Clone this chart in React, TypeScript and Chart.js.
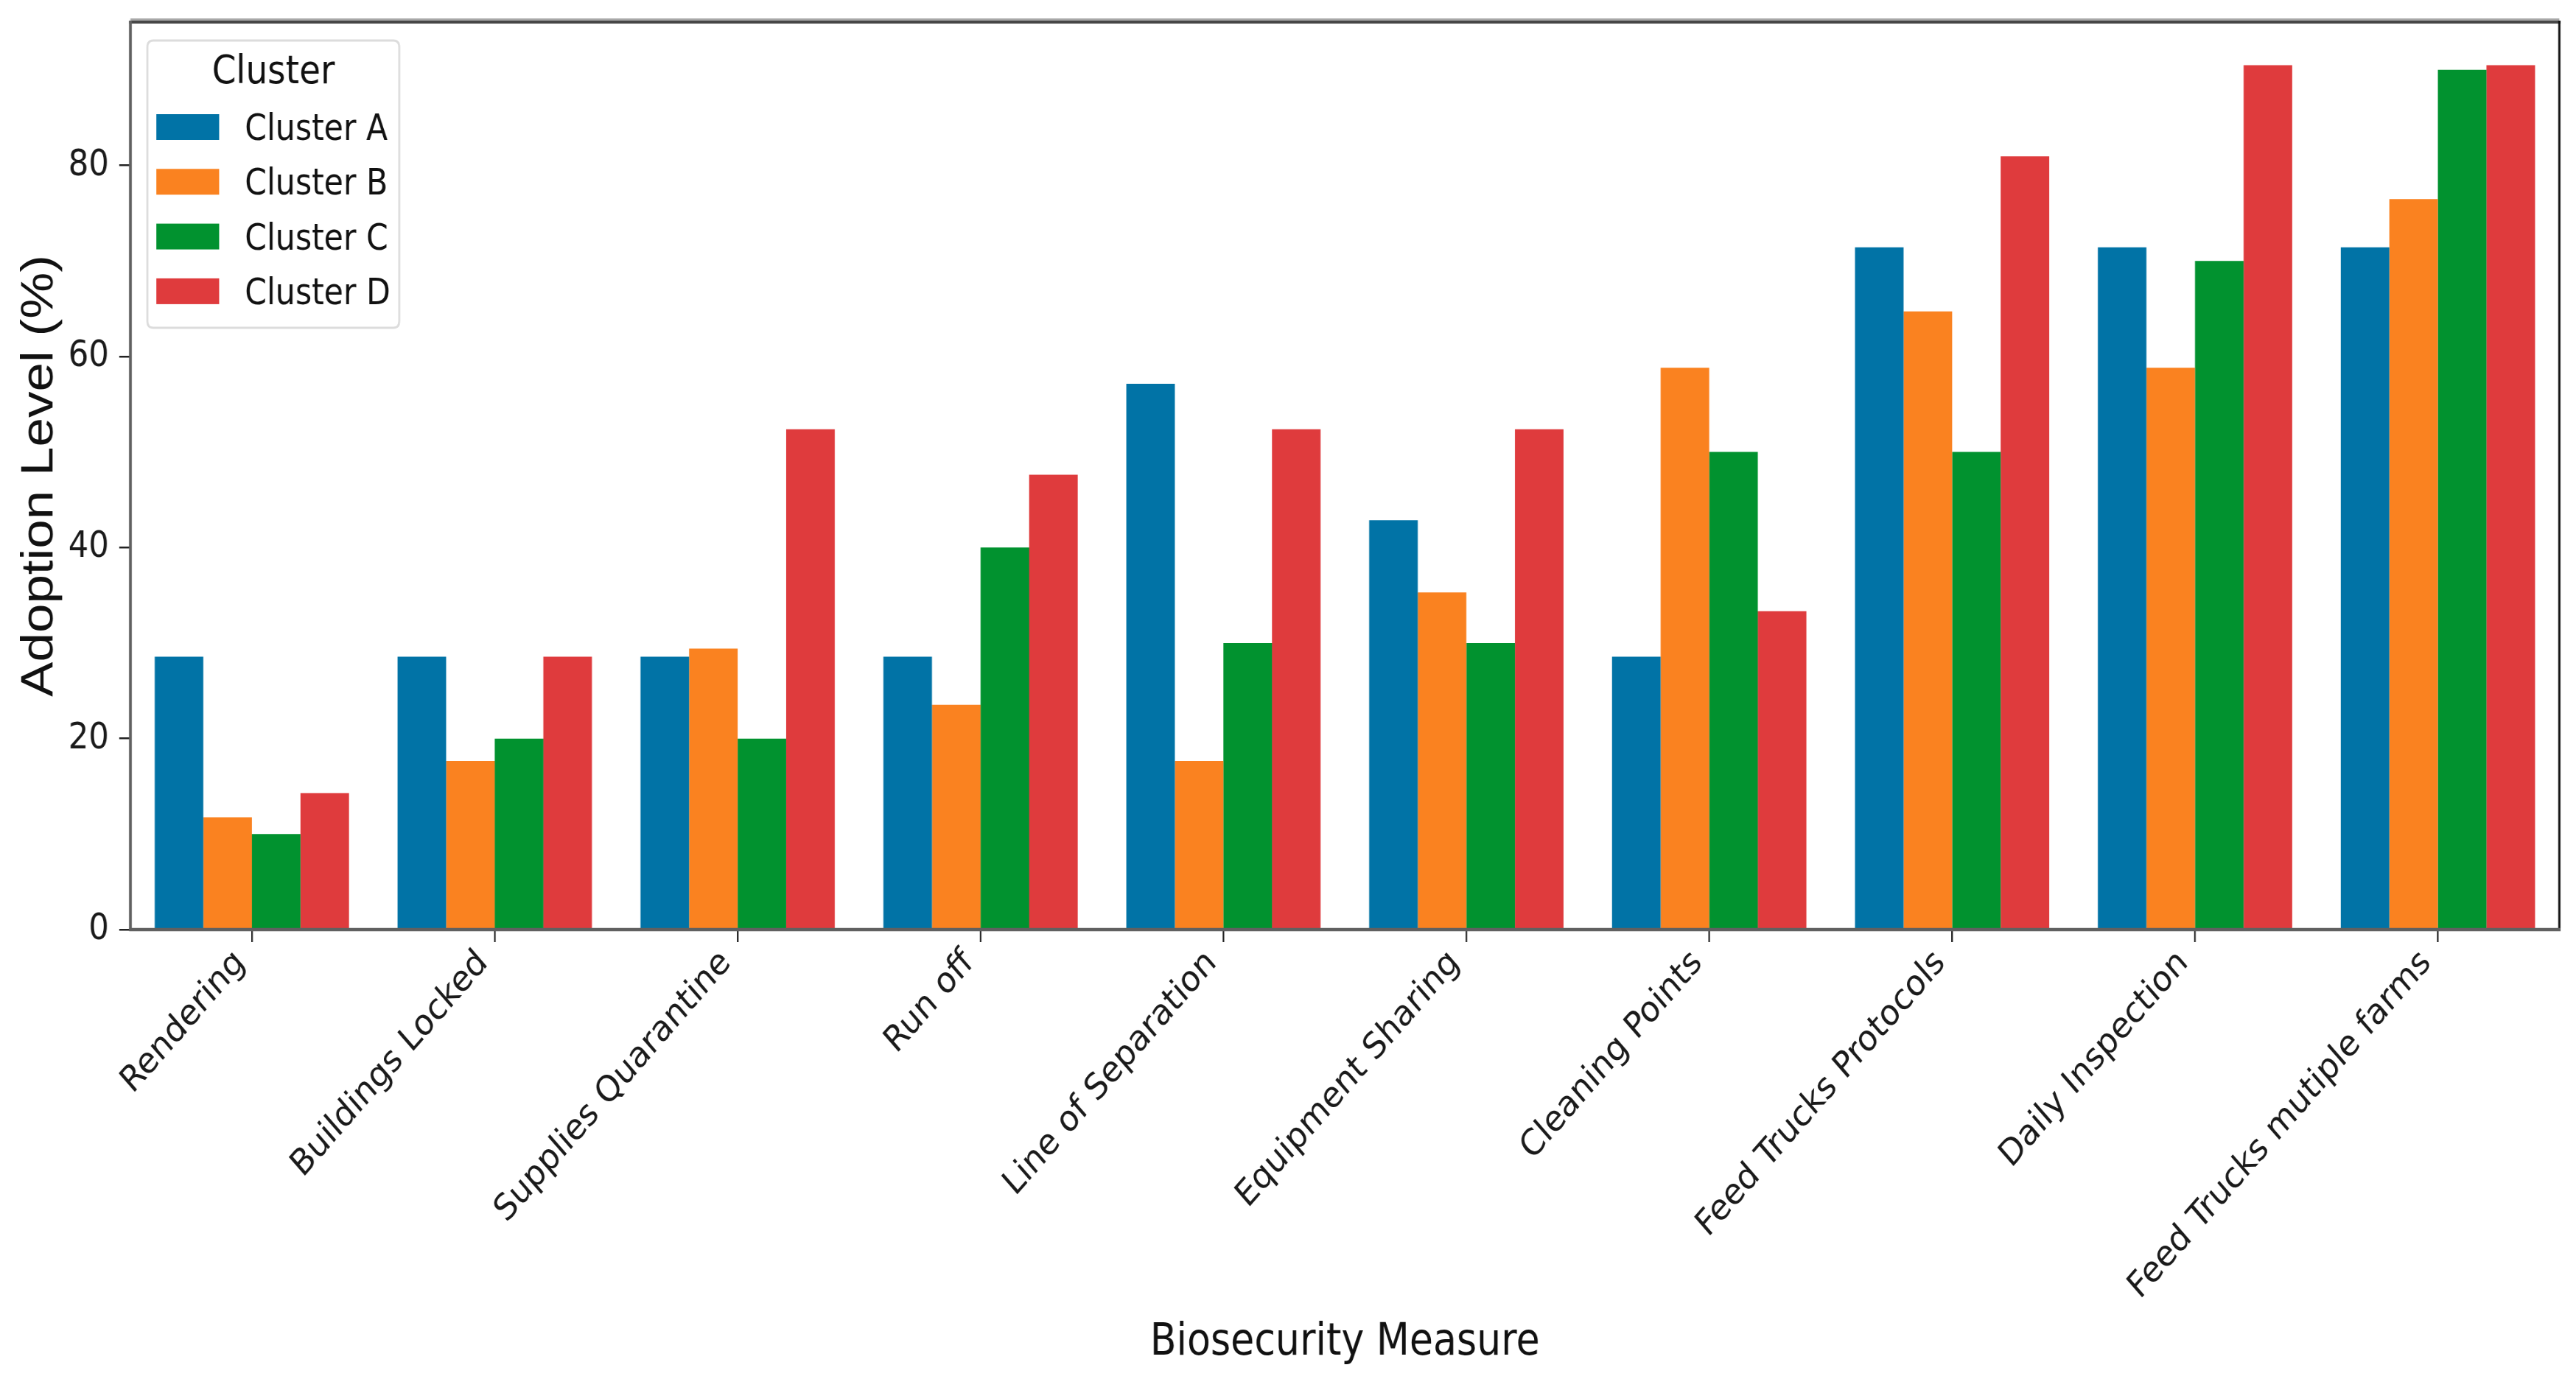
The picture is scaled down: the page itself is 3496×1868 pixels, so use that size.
import React, { useEffect, useRef } from 'react';
import { Chart, registerables } from 'chart.js';

Chart.register(...registerables);

// ---------- data ----------
const categories = [
  'Rendering',
  'Buildings Locked',
  'Supplies Quarantine',
  'Run off',
  'Line of Separation',
  'Equipment Sharing',
  'Cleaning Points',
  'Feed Trucks Protocols',
  'Daily Inspection',
  'Feed Trucks mutiple farms',
];
const clusterNames = ['Cluster A', 'Cluster B', 'Cluster C', 'Cluster D'];
const clusterA = [28.57, 28.57, 28.57, 28.57, 57.14, 42.86, 28.57, 71.43, 71.43, 71.43];
const clusterB = [11.76, 17.65, 29.41, 23.53, 17.65, 35.29, 58.82, 64.71, 58.82, 76.47];
const clusterC = [10, 20, 20, 40, 30, 30, 50, 50, 70, 90];
const clusterD = [14.29, 28.57, 52.38, 47.62, 52.38, 52.38, 33.33, 80.95, 90.48, 90.48];
const clusterColors = ['#0173A6', '#FA8220', '#01922F', '#DF3B3D'];
const yTickValues = [0, 20, 40, 60, 80];
const yMax = 95;
const xTitle = 'Biosecurity Measure';
const yTitle = 'Adoption Level (%)';
const legendTitle = 'Cluster';

// ---------- layout ----------
const OUT_W = 3496;
const OUT_H = 1868;
const STRETCH = 1.15; // reference is horizontally squeezed
const LOG_W = Math.round(OUT_W * STRETCH);

const framePlugin = {
  id: 'framePlugin',
  afterDatasetsDraw(chart: any) {
    const { ctx, chartArea } = chart;
    const { left, right, top, bottom } = chartArea;
    ctx.save();
    // faint line above top spine
    ctx.strokeStyle = '#a8a8a8';
    ctx.lineWidth = 3;
    ctx.beginPath();
    ctx.moveTo(left, top - 3.5);
    ctx.lineTo(right, top - 3.5);
    ctx.stroke();
    // top spine
    ctx.strokeStyle = '#474747';
    ctx.lineWidth = 4;
    ctx.beginPath();
    ctx.moveTo(left - 2, top);
    ctx.lineTo(right + 2, top);
    ctx.stroke();
    // right spine
    ctx.strokeStyle = '#111111';
    ctx.lineWidth = 3.5;
    ctx.beginPath();
    ctx.moveTo(right, top - 2);
    ctx.lineTo(right, bottom + 2);
    ctx.stroke();
    // left spine
    ctx.strokeStyle = '#606060';
    ctx.lineWidth = 4.5;
    ctx.beginPath();
    ctx.moveTo(left, top - 2);
    ctx.lineTo(left, bottom + 2);
    ctx.stroke();
    // bottom spine
    ctx.beginPath();
    ctx.moveTo(left - 2, bottom);
    ctx.lineTo(right + 2, bottom);
    ctx.stroke();
    ctx.restore();
  },
  afterDraw(chart: any) {
    const { ctx } = chart;
    const bx = 230;
    const by = 55;
    const bw = 393;
    const bh = 390;
    const r = 9;
    ctx.save();
    ctx.beginPath();
    ctx.moveTo(bx + r, by);
    ctx.lineTo(bx + bw - r, by);
    ctx.quadraticCurveTo(bx + bw, by, bx + bw, by + r);
    ctx.lineTo(bx + bw, by + bh - r);
    ctx.quadraticCurveTo(bx + bw, by + bh, bx + bw - r, by + bh);
    ctx.lineTo(bx + r, by + bh);
    ctx.quadraticCurveTo(bx, by + bh, bx, by + bh - r);
    ctx.lineTo(bx, by + r);
    ctx.quadraticCurveTo(bx, by, bx + r, by);
    ctx.closePath();
    ctx.fillStyle = 'rgba(255,255,255,0.85)';
    ctx.fill();
    ctx.strokeStyle = '#dcdcdc';
    ctx.lineWidth = 3;
    ctx.stroke();

    ctx.fillStyle = '#111';
    ctx.textAlign = 'center';
    ctx.textBaseline = 'alphabetic';
    ctx.font = '54px "DejaVu Sans"';
    ctx.fillText(legendTitle, bx + bw / 2, 113);

    ctx.font = '49px "DejaVu Sans"';
    ctx.textAlign = 'left';
    const datasets = chart.data.datasets;
    datasets.forEach((ds: any, i: number) => {
      const baseY = 190 + i * 74.3;
      ctx.fillStyle = ds.backgroundColor;
      ctx.fillRect(244, baseY - 35, 98, 35);
      ctx.fillStyle = '#111';
      ctx.fillText(ds.label, 382, baseY);
    });
    ctx.restore();
  },
};

export default function App() {
  const canvasRef = useRef<HTMLCanvasElement | null>(null);

  useEffect(() => {
    if (!canvasRef.current) return;
    const series = [clusterA, clusterB, clusterC, clusterD];
    const chart = new Chart(canvasRef.current, {
      type: 'bar',
      data: {
        labels: categories,
        datasets: series.map((vals, i) => ({
          label: clusterNames[i],
          data: vals,
          backgroundColor: clusterColors[i],
          borderWidth: 0,
          categoryPercentage: 0.8,
          barPercentage: 1.0,
        })),
      },
      options: {
        animation: false,
        responsive: true,
        maintainAspectRatio: false,
        layout: { padding: { top: 30, right: 26, left: 0, bottom: 0 } },
        plugins: {
          legend: { display: false },
          tooltip: { enabled: false },
          title: { display: false },
        },
        scales: {
          x: {
            type: 'category',
            offset: true,
            grid: {
              display: true,
              offset: false,
              drawOnChartArea: false,
              drawTicks: true,
              tickLength: 17,
              tickColor: '#222',
              lineWidth: 2.5,
            },
            border: { display: false },
            ticks: {
              autoSkip: false,
              minRotation: 45,
              maxRotation: 45,
              padding: 0,
              labelOffset: -18,
              color: '#1a1a1a',
              font: { family: '"DejaVu Sans"', size: 49 },
            },
            title: {
              display: true,
              text: xTitle,
              color: '#111',
              font: { family: '"DejaVu Sans"', size: 60 },
              padding: { top: 0, bottom: 9 },
            },
            afterFit: (scale: any) => {
              scale.height = OUT_H - 1262;
              scale.paddingLeft = 0;
              scale.paddingRight = 0;
            },
          },
          y: {
            type: 'linear',
            min: 0,
            max: yMax,
            afterBuildTicks: (scale: any) => {
              scale.ticks = yTickValues.map((v) => ({ value: v }));
            },
            grid: {
              display: true,
              drawOnChartArea: false,
              drawTicks: true,
              tickLength: 17.5,
              tickColor: '#222',
              lineWidth: 2.5,
            },
            border: { display: false },
            ticks: {
              padding: 16,
              color: '#1a1a1a',
              font: { family: '"DejaVu Sans"', size: 50 },
            },
            title: {
              display: true,
              text: yTitle,
              color: '#111',
              font: { family: '"Liberation Sans"', size: 71 },
              padding: { top: 20, bottom: 0 },
            },
            afterFit: (scale: any) => {
              scale.width = 203.5;
              scale.paddingTop = 0;
              scale.paddingBottom = 0;
            },
          },
        },
      },
      plugins: [framePlugin],
    });
    return () => chart.destroy();
  }, []);

  return (
    <div
      style={{
        position: 'fixed',
        left: 0,
        top: 0,
        width: OUT_W,
        height: OUT_H,
        overflow: 'hidden',
        background: '#ffffff',
      }}
    >
      <div
        style={{
          width: LOG_W,
          height: OUT_H,
          transform: `scaleX(${OUT_W / LOG_W})`,
          transformOrigin: '0 0',
        }}
      >
        <canvas ref={canvasRef} />
      </div>
    </div>
  );
}
